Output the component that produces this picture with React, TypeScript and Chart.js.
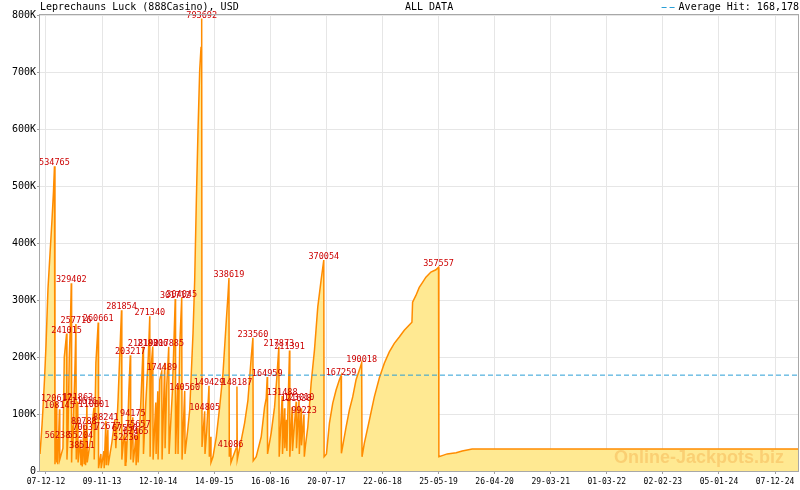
import React, { useEffect, useRef } from 'react';
import { Chart, registerables } from 'chart.js';

Chart.register(...registerables);

const TITLE = 'Leprechauns Luck (888Casino), USD';
const SUBTITLE = 'ALL DATA';
const WATERMARK = 'Online-Jackpots.biz';
const AVERAGE_HIT = 168178;

// x axis is "days since 07-12-12"
const xTickLabels = [
  '07-12-12', '09-11-13', '12-10-14', '14-09-15', '16-08-16', '20-07-17', '22-06-18',
  '25-05-19', '26-04-20', '29-03-21', '01-03-22', '02-02-23', '05-01-24', '07-12-24',
];
const TICK_SPAN_DAYS = 4383; // 07-12-12 .. 07-12-24
const X_MIN = -36;
const X_MAX = 4521;

const yTickValues = [0, 100000, 200000, 300000, 400000, 500000, 600000, 700000, 800000];

// jackpot level (days since start, USD)
const seriesDays = [
  -36, -24, -18, -9, 0, 12, 24, 36, 45, 51, 54,
  57, 63, 65, 69, 71, 81, 83, 102, 110, 124, 126,
  132, 140, 147, 152, 154, 159, 162, 168, 174, 180, 182,
  191, 193, 207, 210, 216, 218, 228, 230, 236, 238, 246, 248,
  270, 288, 290, 300, 314, 316, 330, 332, 348, 350, 360, 362,
  372, 374, 396, 414, 420, 434, 444, 454, 456, 468, 474, 476,
  480, 482, 492, 498, 507, 509, 522, 524, 534, 540, 542, 552, 554,
  570, 584, 586, 600, 615, 624, 626, 634, 642, 644, 660, 662,
  672, 674, 684, 696, 698, 714, 716, 726, 738, 740, 760, 777, 779,
  792, 794, 804, 816, 818, 834, 836, 852, 864, 884, 894, 904,
  914, 924, 932, 936, 938, 954, 956, 966, 980, 982, 990, 992,
  1004, 1024, 1044, 1064, 1084, 1094, 1100, 1102, 1110, 1112,
  1143, 1148, 1150, 1174, 1194, 1214, 1234, 1244, 1246,
  1264, 1294, 1314, 1324, 1330, 1332, 1354, 1374, 1388, 1400, 1402,
  1420, 1422, 1434, 1436, 1446, 1448, 1464, 1466, 1480, 1482,
  1504, 1506, 1521, 1523, 1534, 1536, 1551, 1553,
  1560, 1574, 1594, 1614, 1634, 1654, 1670, 1672,
  1686, 1704, 1724, 1744, 1764, 1774, 1776,
  1804, 1824, 1844, 1864, 1884, 1898, 1900,
  1914, 1944, 1974, 2004, 2034, 2064, 2094, 2124, 2154, 2184, 2200,
  2204, 2224, 2244, 2264, 2284, 2314, 2344, 2360, 2362,
  2382, 2412, 2466, 2502, 2562, 4521,
];
const seriesValues = [
  30000, 80000, 110000, 160000, 220000, 320000, 380000, 440000, 490000, 534765, 12000,
  30000, 120617, 15000, 56238, 12000, 108145, 20000, 40000, 200000, 241015, 20000,
  60000, 200000, 260000, 329402, 15000, 80000, 40000, 120000, 180000, 257716, 20000,
  121863, 15000, 55204, 10000, 38511, 8000, 80788, 12000, 70631, 10000, 116161, 15000,
  60000, 110801, 20000, 190000, 260661, 5000, 30000, 5000, 35000, 5000, 88241, 10000,
  72677, 10000, 50000, 90000, 40000, 130000, 207000, 281854, 20000, 60000, 67556, 10000,
  52236, 15000, 80000, 140000, 203217, 20000, 94175, 15000, 40000, 62465, 10000, 75657, 15000,
  120000, 218190, 30000, 120000, 200000, 271340, 25000, 190000, 218306, 20000, 120000, 30000,
  140000, 20000, 160000, 174489, 20000, 190000, 40000, 150000, 217885, 30000, 140000, 301712, 30000,
  150000, 30000, 220000, 304045, 20000, 140560, 30000, 72000, 107000, 242000, 335000, 475000,
  598000, 703000, 743000, 793692, 42000, 104805, 30000, 70000, 149429, 25000, 60000, 15000,
  25000, 60000, 112000, 171000, 264000, 308000, 338619, 25000, 41086, 15000,
  40000, 148187, 20000, 54000, 84000, 124000, 200000, 233560, 18000,
  25000, 60000, 112000, 128000, 164959, 30000, 67000, 112000, 165000, 217873, 25000,
  131488, 30000, 110000, 40000, 90000, 35000, 211391, 25000, 112000, 35000,
  121638, 40000, 123010, 30000, 110000, 45000, 99223, 25000,
  45000, 77000, 154000, 212000, 288000, 335000, 370054, 25000,
  30000, 84000, 119000, 142000, 160000, 167259, 31000,
  77000, 107000, 130000, 160000, 177000, 190018, 25000,
  49000, 89000, 130000, 163000, 189000, 209000, 224000, 235000, 247000, 256000, 261000,
  296000, 308000, 322000, 331000, 340000, 349000, 353000, 357557, 25000,
  27000, 30000, 32000, 35000, 38500, 38500,
];

// jackpot hits (labelled peaks)
const hitDays = [
  51, 63, 69, 81, 124, 152, 180, 191, 207, 216, 228, 236, 246, 288, 314,
  360, 372, 454, 474, 480, 507, 522, 540, 552, 584, 624, 642, 696, 738,
  777, 816, 834, 936, 954, 980, 1100, 1110, 1148, 1244, 1330, 1400, 1420,
  1464, 1504, 1521, 1551, 1670, 1774, 1898, 2360,
];
const hitValues = [
  534765, 120617, 56238, 108145, 241015, 329402, 257716, 121863, 55204, 38511, 80788, 70631, 116161, 110801, 260661,
  88241, 72677, 281854, 67556, 52236, 203217, 94175, 62465, 75657, 218190, 271340, 218306, 174489, 217885,
  301712, 304045, 140560, 793692, 104805, 149429, 338619, 41086, 148187, 233560, 164959, 217873, 131488,
  211391, 121638, 123010, 99223, 370054, 167259, 190018, 357557,
];

const MONO = '"DejaVu Sans Mono", "Liberation Mono", monospace';

const overlayPlugin = {
  id: 'overlay',
  afterDatasetsDraw(chart: any) {
    const { ctx, chartArea: a, scales } = chart;
    const xs = scales.x;
    const ys = scales.y;
    ctx.save();

    // watermark
    ctx.font = 'bold 18px "Liberation Sans", Arial, sans-serif';
    ctx.fillStyle = 'rgba(247, 190, 95, 0.6)';
    ctx.textAlign = 'center';
    ctx.textBaseline = 'middle';
    ctx.fillText(WATERMARK, a.right - 99, a.bottom - 13);

    // hit labels
    ctx.font = '8.5px ' + MONO;
    ctx.fillStyle = '#cc0000';
    ctx.textAlign = 'center';
    ctx.textBaseline = 'bottom';
    hitDays.forEach((d, i) => {
      const px = xs.getPixelForValue(d);
      const py = ys.getPixelForValue(hitValues[i]);
      ctx.fillText(String(hitValues[i]), px, py + 1);
    });

    // plot border
    ctx.strokeStyle = '#a8a8a8';
    ctx.lineWidth = 1;
    ctx.setLineDash([]);
    ctx.strokeRect(Math.round(a.left) - 0.5, Math.round(a.top) - 0.5, Math.round(a.right - a.left) + 1, Math.round(a.bottom - a.top) + 1);

    // header texts
    ctx.font = '10px ' + MONO;
    ctx.fillStyle = '#000';
    ctx.textBaseline = 'middle';
    ctx.textAlign = 'left';
    ctx.fillText(TITLE, a.left, 7);
    ctx.fillText(SUBTITLE, 405, 7);
    ctx.textAlign = 'right';
    const legendText = 'Average Hit: ' + AVERAGE_HIT.toLocaleString('en-US');
    ctx.fillText(legendText, 799, 7);
    const w = ctx.measureText(legendText).width;
    ctx.strokeStyle = '#2a9fd6';
    ctx.setLineDash([5, 3]);
    ctx.beginPath();
    ctx.moveTo(799 - w - 17, 7.5);
    ctx.lineTo(799 - w - 3, 7.5);
    ctx.stroke();

    ctx.restore();
  },
};

export default function App() {
  const ref = useRef<HTMLCanvasElement>(null);

  useEffect(() => {
    if (!ref.current) return;
    const points = seriesDays.map((d, i) => ({ x: d, y: seriesValues[i] }));
    const chart = new Chart(ref.current, {
      type: 'line',
      data: {
        datasets: [
          {
            label: 'Average Hit',
            data: [
              { x: X_MIN, y: AVERAGE_HIT },
              { x: X_MAX, y: AVERAGE_HIT },
            ],
            borderColor: '#2a9fd6',
            borderWidth: 1,
            borderDash: [5, 3],
            pointRadius: 0,
            fill: false,
            order: 0,
          },
          {
            label: 'Jackpot',
            data: points,
            borderColor: '#ff8c00',
            backgroundColor: '#ffe992',
            borderWidth: 1.5,
            pointRadius: 0,
            tension: 0,
            fill: 'origin',
            order: 1,
          },
        ],
      },
      options: {
        responsive: false,
        animation: false,
        devicePixelRatio: 1,
        parsing: false as any,
        layout: { padding: { top: 15, right: 2, left: 0, bottom: 0 } },
        plugins: {
          legend: { display: false },
          tooltip: { enabled: false },
          title: { display: false },
        },
        scales: {
          x: {
            type: 'linear',
            min: X_MIN,
            max: X_MAX,
            afterBuildTicks: (scale: any) => {
              scale.ticks = xTickLabels.map((_, k) => ({
                value: (k * TICK_SPAN_DAYS) / (xTickLabels.length - 1),
              }));
            },
            afterFit: (scale: any) => {
              scale.height = 19;
            },
            ticks: {
              autoSkip: false,
              maxRotation: 0,
              minRotation: 0,
              padding: 3,
              color: '#000',
              font: { family: MONO, size: 8 },
              callback: (_v: any, index: number) => xTickLabels[index],
            },
            grid: { color: '#e6e6e6', tickColor: '#a0a0a0', tickLength: 3, lineWidth: 1 },
            border: { display: false },
          },
          y: {
            type: 'linear',
            min: 0,
            max: 800000,
            afterBuildTicks: (scale: any) => {
              scale.ticks = yTickValues.map((v) => ({ value: v }));
            },
            afterFit: (scale: any) => {
              scale.width = 40;
            },
            ticks: {
              padding: 1,
              color: '#000',
              font: { family: MONO, size: 10 },
              callback: (v: any) => (Number(v) === 0 ? '0' : Number(v) / 1000 + 'K'),
            },
            grid: { color: '#e6e6e6', tickColor: '#a0a0a0', tickLength: 3, lineWidth: 1 },
            border: { display: false },
          },
        },
      },
      plugins: [overlayPlugin],
    });
    return () => chart.destroy();
  }, []);

  return (
    <div style={{ position: 'fixed', left: 0, top: 0, width: 800, height: 490, background: '#fff' }}>
      <canvas ref={ref} width={800} height={490} style={{ width: 800, height: 490, display: 'block' }} />
    </div>
  );
}
